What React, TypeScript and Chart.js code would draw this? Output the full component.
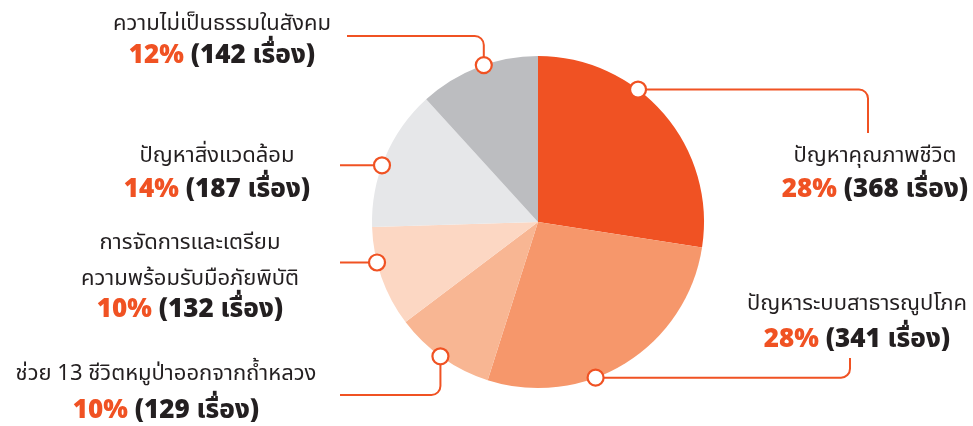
import React, { useEffect, useRef } from "react";
import { Chart, registerables } from "chart.js";

Chart.register(...registerables);

const categories = [
  "ปัญหาคุณภาพชีวิต",
  "ปัญหาระบบสาธารณูปโภค",
  "ช่วย 13 ชีวิตหมูป่าออกจากถ้ำหลวง",
  "การจัดการและเตรียมความพร้อมรับมือภัยพิบัติ",
  "ปัญหาสิ่งแวดล้อม",
  "ความไม่เป็นธรรมในสังคม",
];
const percentValues = [28, 28, 10, 10, 14, 12];
const storyCounts = [368, 341, 129, 132, 187, 142];
const labelLines = [
  ["ปัญหาคุณภาพชีวิต"],
  ["ปัญหาระบบสาธารณูปโภค"],
  ["ช่วย 13 ชีวิตหมูป่าออกจากถ้ำหลวง"],
  ["การจัดการและเตรียม", "ความพร้อมรับมือภัยพิบัติ"],
  ["ปัญหาสิ่งแวดล้อม"],
  ["ความไม่เป็นธรรมในสังคม"],
];
const sliceColors = ["#F05223", "#F6976B", "#F8B693", "#FCD7C3", "#E6E7E9", "#BCBDC0"];

// layout for the callouts (style/position only)
const callouts = [
  { frac: 0.375, legs: [["h", 868], ["v", 133]], x: 875, baselines: [162, 197] },
  { frac: 0.616, legs: [["h", 850], ["v", 358]], x: 857, baselines: [310, 347] },
  { frac: 0.52, legs: [["v", 395], ["h", 340]], x: 166, baselines: [380, 418] },
  { frac: 0.65, legs: [["h", 340]], x: 190, baselines: [249, 285, 317] },
  { frac: 0.44, legs: [["h", 340]], x: 217, baselines: [162, 197] },
  { frac: 0.55, legs: [["v", 36], ["h", 347]], x: 222, baselines: [30, 63] },
];

const ORANGE = "#F05223";
const DARK = "#231F20";
const THAI_FONT = "22px 'Noto Sans Thai', 'Noto Sans', 'DejaVu Sans', sans-serif";
const BOLD_FONT = "800 26px 'Open Sans', 'Noto Sans Thai', 'Noto Sans', sans-serif";

const calloutPlugin = {
  id: "callouts",
  afterDraw(chart: any) {
    const ctx = chart.ctx as CanvasRenderingContext2D;
    const meta = chart.getDatasetMeta(0);
    meta.data.forEach((arc: any, i: number) => {
      const c = callouts[i];
      const { x: cx, y: cy, startAngle, endAngle, outerRadius } = arc.getProps(
        ["x", "y", "startAngle", "endAngle", "outerRadius"],
        true
      );
      const a = startAngle + c.frac * (endAngle - startAngle);
      const mx = cx + Math.cos(a) * outerRadius;
      const my = cy + Math.sin(a) * outerRadius;

      // leader line
      ctx.save();
      ctx.strokeStyle = ORANGE;
      ctx.lineWidth = 2;
      ctx.beginPath();
      ctx.moveTo(mx, my);
      const pts: [number, number][] = [[mx, my]];
      let px = mx, py = my;
      c.legs.forEach(([dir, v]: any) => {
        if (dir === "h") px = v; else py = v;
        pts.push([px, py]);
      });
      for (let k = 1; k < pts.length; k++) {
        if (k < pts.length - 1) {
          ctx.arcTo(pts[k][0], pts[k][1], pts[k + 1][0], pts[k + 1][1], 9);
        } else {
          ctx.lineTo(pts[k][0], pts[k][1]);
        }
      }
      ctx.stroke();

      // marker
      ctx.beginPath();
      ctx.arc(mx, my, 8, 0, Math.PI * 2);
      ctx.fillStyle = "#FFFFFF";
      ctx.fill();
      ctx.lineWidth = 2.2;
      ctx.strokeStyle = ORANGE;
      ctx.stroke();

      // text
      ctx.textBaseline = "alphabetic";
      ctx.textAlign = "left";
      const lines = labelLines[i];
      ctx.font = THAI_FONT;
      ctx.fillStyle = DARK;
      lines.forEach((t, j) => {
        const w = ctx.measureText(t).width;
        ctx.fillText(t, c.x - w / 2, c.baselines[j]);
      });
      ctx.font = BOLD_FONT;
      const p1 = `${percentValues[i]}%`;
      const p2 = ` (${storyCounts[i]} เรื่อง)`;
      const w1 = ctx.measureText(p1).width;
      const w2 = ctx.measureText(p2).width;
      const sx = c.x - (w1 + w2) / 2;
      const by = c.baselines[lines.length];
      ctx.fillStyle = ORANGE;
      ctx.fillText(p1, sx, by);
      ctx.fillStyle = DARK;
      ctx.fillText(p2, sx + w1, by);
      ctx.restore();
    });
  },
};

export default function App() {
  const ref = useRef<HTMLCanvasElement>(null);
  useEffect(() => {
    if (!ref.current) return;
    const chart = new Chart(ref.current, {
      type: "pie",
      data: {
        labels: categories,
        datasets: [
          {
            data: percentValues,
            backgroundColor: sliceColors,
            borderWidth: 0,
          },
        ],
      },
      options: {
        animation: false,
        responsive: false,
        maintainAspectRatio: false,
        layout: { padding: { top: 56, bottom: 38, left: 372, right: 269 } },
        plugins: {
          legend: { display: false },
          tooltip: { enabled: false },
        },
      },
      plugins: [calloutPlugin],
    });
    return () => chart.destroy();
  }, []);
  return (
    <div style={{ position: "fixed", left: 0, top: 0, width: 973, height: 426, background: "#fff" }}>
      <canvas ref={ref} width={973} height={426} style={{ width: 973, height: 426 }} />
    </div>
  );
}
